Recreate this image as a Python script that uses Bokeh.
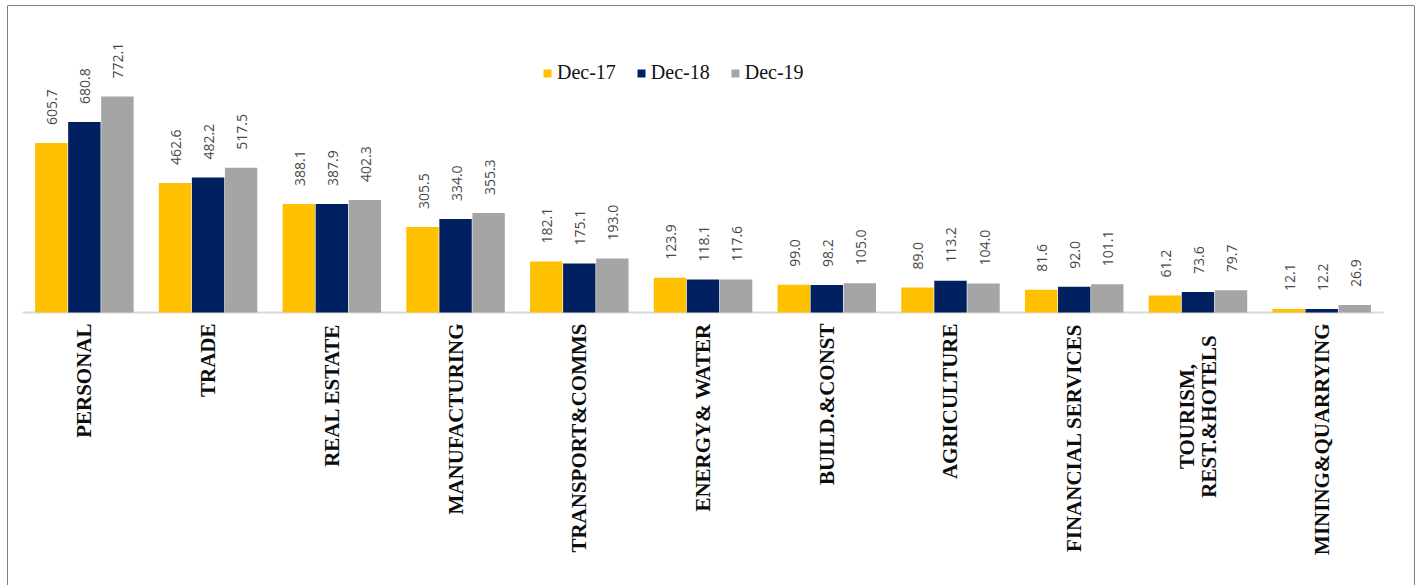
import math
from bokeh.plotting import figure
from bokeh.models import ColumnDataSource, Range1d, Span, Legend, LegendItem
from bokeh.core.properties import value
from bokeh.embed import file_html
from bokeh.resources import INLINE

categories = ["PERSONAL", "TRADE", "REAL ESTATE", "MANUFACTURING", "TRANSPORT&COMMS",
              "ENERGY& WATER", "BUILD.&CONST", "AGRICULTURE", "FINANCIAL SERVICES",
              "TOURISM,\nREST.&HOTELS", "MINING&QUARRYING"]
series_names = ["Dec-17", "Dec-18", "Dec-19"]
dec17 = [605.7, 462.6, 388.1, 305.5, 182.1, 123.9, 99.0, 89.0, 81.6, 61.2, 12.1]
dec18 = [680.8, 482.2, 387.9, 334.0, 175.1, 118.1, 98.2, 113.2, 92.0, 73.6, 12.2]
dec19 = [772.1, 517.5, 402.3, 355.3, 193.0, 117.6, 105.0, 104.0, 101.1, 79.7, 26.9]
series_values = [dec17, dec18, dec19]
colors = ["#FFC000", "#002060", "#A5A5A5"]

n = len(categories)
W, H = 1420, 585
p = figure(width=W, height=H, output_backend="svg", toolbar_location=None,
           x_axis_type=None, y_axis_type=None,
           x_range=Range1d(-0.1212, 11.25), y_range=Range1d(-975.8, 1097.4),
           min_border_left=7, min_border_right=6, min_border_top=5, min_border_bottom=0)
p.grid.visible = False
p.outline_line_color = None
p.background_fill_color = "white"
p.border_fill_color = "white"

# frame border (left, top, right)
for loc, dim in [(p.x_range.start, "height"), (p.x_range.end, "height"), (p.y_range.end, "width")]:
    p.add_layout(Span(location=loc, dimension=dim, line_color="#000000", line_width=1))

# baseline
p.segment(x0=[0], y0=[0], x1=[n], y1=[0], line_color="#D9D9D9", line_width=2)

offsets = [-0.267, 0.0, 0.267]
items = []
for k, (name, vals, col) in enumerate(zip(series_names, series_values, colors)):
    xs = [i + 0.5 + offsets[k] for i in range(n)]
    src = ColumnDataSource(dict(x=xs, top=vals, lab=[f"{v:.1f}" for v in vals]))
    r = p.vbar(x="x", top="top", bottom=0, width=0.262, source=src,
               fill_color=col, line_color=None)
    items.append(LegendItem(label=name, renderers=[r]))
    p.text(x="x", y="top", text="lab", source=src, angle=math.pi / 2,
           y_offset=-18, x_offset=1, text_align="left", text_baseline="middle",
           text_font=value("Open Sans"), text_font_size="14px", text_color="#484848")

# category labels
single = [i for i, c in enumerate(categories) if "\n" not in c]
multi = [i for i, c in enumerate(categories) if "\n" in c]
src_c = ColumnDataSource(dict(x=[i + 0.5 for i in single], y=[0] * len(single),
                              t=[categories[i] for i in single]))
p.text(x="x", y="y", text="t", source=src_c, angle=math.pi / 2, y_offset=11,
       text_align="right", text_baseline="middle",
       text_font=value("Liberation Serif"), text_font_style="bold",
       text_font_size="21px", text_color="#0D0D0D")
src_m = ColumnDataSource(dict(x=[i + 0.5 for i in multi], y=[0] * len(multi),
                              t=[categories[i] for i in multi]))
p.text(x="x", y="y", text="t", source=src_m, angle=math.pi / 2, y_offset=104,
       text_align="center", text_baseline="middle", text_line_height=0.9,
       text_font=value("Liberation Serif"), text_font_style="bold",
       text_font_size="21px", text_color="#0D0D0D")

legend = Legend(items=items, orientation="horizontal", location=(535, 501),
                label_text_font="Liberation Serif", label_text_font_size="20px",
                label_text_color="#111111",
                glyph_width=10, glyph_height=10, label_standoff=5, spacing=20,
                padding=0, margin=0, background_fill_alpha=0, border_line_color=None)
p.add_layout(legend)

open("out.html", "w").write(file_html(p, INLINE))
